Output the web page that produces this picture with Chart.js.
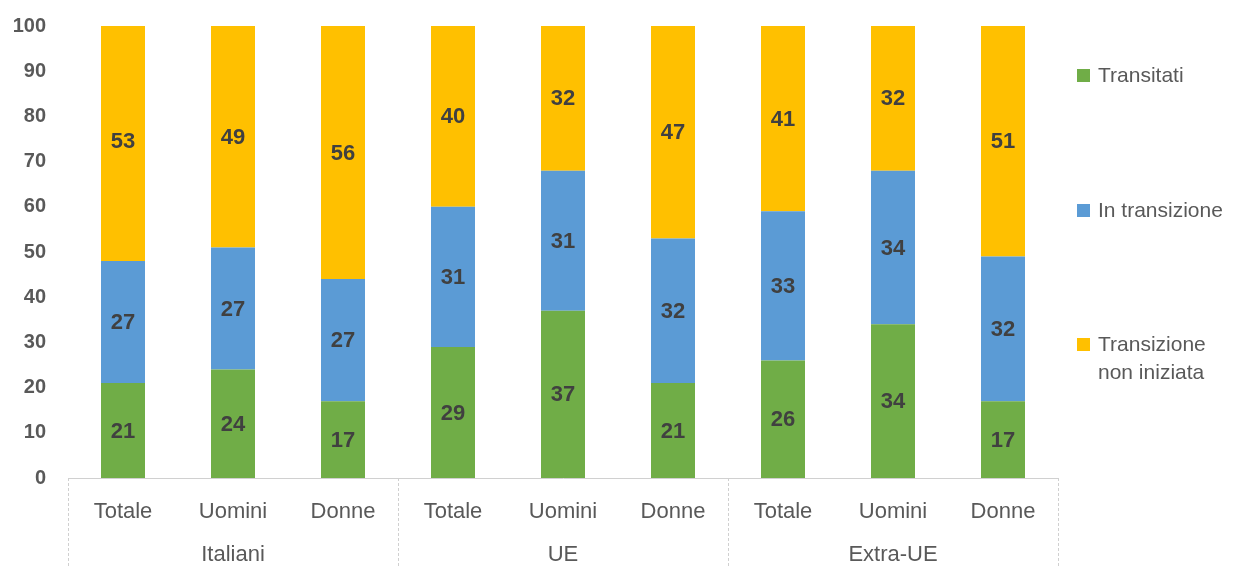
<!DOCTYPE html>
<html>
<head>
<meta charset="utf-8">
<script src="https://cdn.jsdelivr.net/npm/chart.js@4.4.0/dist/chart.umd.min.js"></script>
<style>
    html, body { margin: 0; padding: 0; background: #fff; }
    #wrap { position: relative; width: 1234px; height: 567px; }
    #legend { position: absolute; left: 1077px; top: 0; font-family: "Liberation Sans", Arial, sans-serif; font-size: 21px; color: #595959; }
    .leg { position: absolute; left: 0; width: 160px; display: flex; align-items: flex-start; line-height: 28px; }
    .sw { display: inline-block; width: 13px; height: 13px; margin: 8px 8px 0 0; flex: none; }
</style>
</head>
<body>
<div id="wrap">
    <canvas id="chart" width="1234" height="567"></canvas>
    <div id="legend"></div>
</div>
<script>
// -------- DATA --------
const groups = ["Italiani", "UE", "Extra-UE"];
const subLabels = ["Totale", "Uomini", "Donne", "Totale", "Uomini", "Donne", "Totale", "Uomini", "Donne"];

const transitati = [21, 24, 17, 29, 37, 21, 26, 34, 17];
const inTransizione = [27, 27, 27, 31, 31, 32, 33, 34, 32];
const nonIniziata = [53, 49, 56, 40, 32, 47, 41, 32, 51];

const seriesNames = ["Transitati", "In transizione", "Transizione non iniziata"];
const legendLines = [["Transitati"], ["In transizione"], ["Transizione", "non iniziata"]];

// -------- STYLE --------
const colors = ["#70AD47", "#5B9BD5", "#FFC000"];
const legendTops = [61, 196, 330];
const FONT = "'Liberation Sans', Arial, sans-serif";
const GRAY = "#595959";

// -------- LEGEND (html) --------
const legendEl = document.getElementById("legend");
seriesNames.forEach((name, i) => {
    const row = document.createElement("div");
    row.className = "leg";
    row.style.top = legendTops[i] + "px";
    const sw = document.createElement("span");
    sw.className = "sw";
    sw.style.background = colors[i];
    const txt = document.createElement("span");
    txt.innerHTML = legendLines[i].join("<br>");
    row.appendChild(sw);
    row.appendChild(txt);
    legendEl.appendChild(row);
});

// -------- PLUGINS --------
const barLabels = {
    id: "barLabels",
    afterDatasetsDraw(chart) {
        const ctx = chart.ctx;
        ctx.save();
        ctx.font = "bold 22px " + FONT;
        ctx.fillStyle = "#404040";
        ctx.textAlign = "center";
        ctx.textBaseline = "middle";
        chart.data.datasets.forEach((ds, di) => {
            chart.getDatasetMeta(di).data.forEach((el, i) => {
                const y = (el.y + el.base) / 2;
                ctx.fillText(String(ds.data[i]), el.x, y + 1);
            });
        });
        ctx.restore();
    }
};

const groupLines = {
    id: "groupLines",
    afterDraw(chart) {
        const x = chart.scales.x;
        const ctx = chart.ctx;
        const w = (x.right - x.left) / groups.length;
        ctx.save();
        ctx.strokeStyle = "#d0d0d0";
        ctx.lineWidth = 1;
        ctx.setLineDash([3, 2]);
        for (let k = 0; k <= groups.length; k++) {
            const px = Math.round(x.left + k * w) + 0.5;
            ctx.beginPath();
            ctx.moveTo(px, chart.chartArea.bottom);
            ctx.lineTo(px, chart.height);
            ctx.stroke();
        }
        ctx.restore();
    }
};

// -------- CHART --------
const chart = new Chart(document.getElementById("chart").getContext("2d"), {
    type: "bar",
    data: {
        labels: subLabels,
        datasets: [
            { label: seriesNames[0], data: transitati, backgroundColor: colors[0] },
            { label: seriesNames[1], data: inTransizione, backgroundColor: colors[1] },
            { label: seriesNames[2], data: nonIniziata, backgroundColor: colors[2] }
        ]
    },
    options: {
        responsive: false,
        animation: false,
        datasets: { bar: { barPercentage: 0.4, categoryPercentage: 1 } },
        layout: { padding: { top: 12, right: 176, left: 0, bottom: 0 } },
        plugins: { legend: { display: false }, tooltip: { enabled: false } },
        scales: {
            x: {
                stacked: true,
                offset: true,
                grid: { display: false },
                border: { display: true, color: "#d0d0d0", dash: [3, 2] },
                ticks: { color: GRAY, font: { family: FONT, size: 22 }, padding: 13, maxRotation: 0, autoSkip: false },
                afterFit(s) { s.height = 52; }
            },
            x2: {
                type: "category",
                labels: groups,
                position: "bottom",
                offset: true,
                grid: { display: false },
                border: { display: false },
                ticks: { color: GRAY, font: { family: FONT, size: 22 }, padding: 4, maxRotation: 0 },
                afterFit(s) { s.height = 37; }
            },
            y: {
                stacked: true,
                min: 0,
                max: 100,
                grid: { display: false },
                border: { display: false },
                ticks: { stepSize: 10, color: GRAY, font: { family: FONT, size: 20, weight: "bold" }, padding: 14 },
                afterFit(s) { s.width = 68; }
            }
        }
    },
    plugins: [barLabels, groupLines]
});
</script>
</body>
</html>
